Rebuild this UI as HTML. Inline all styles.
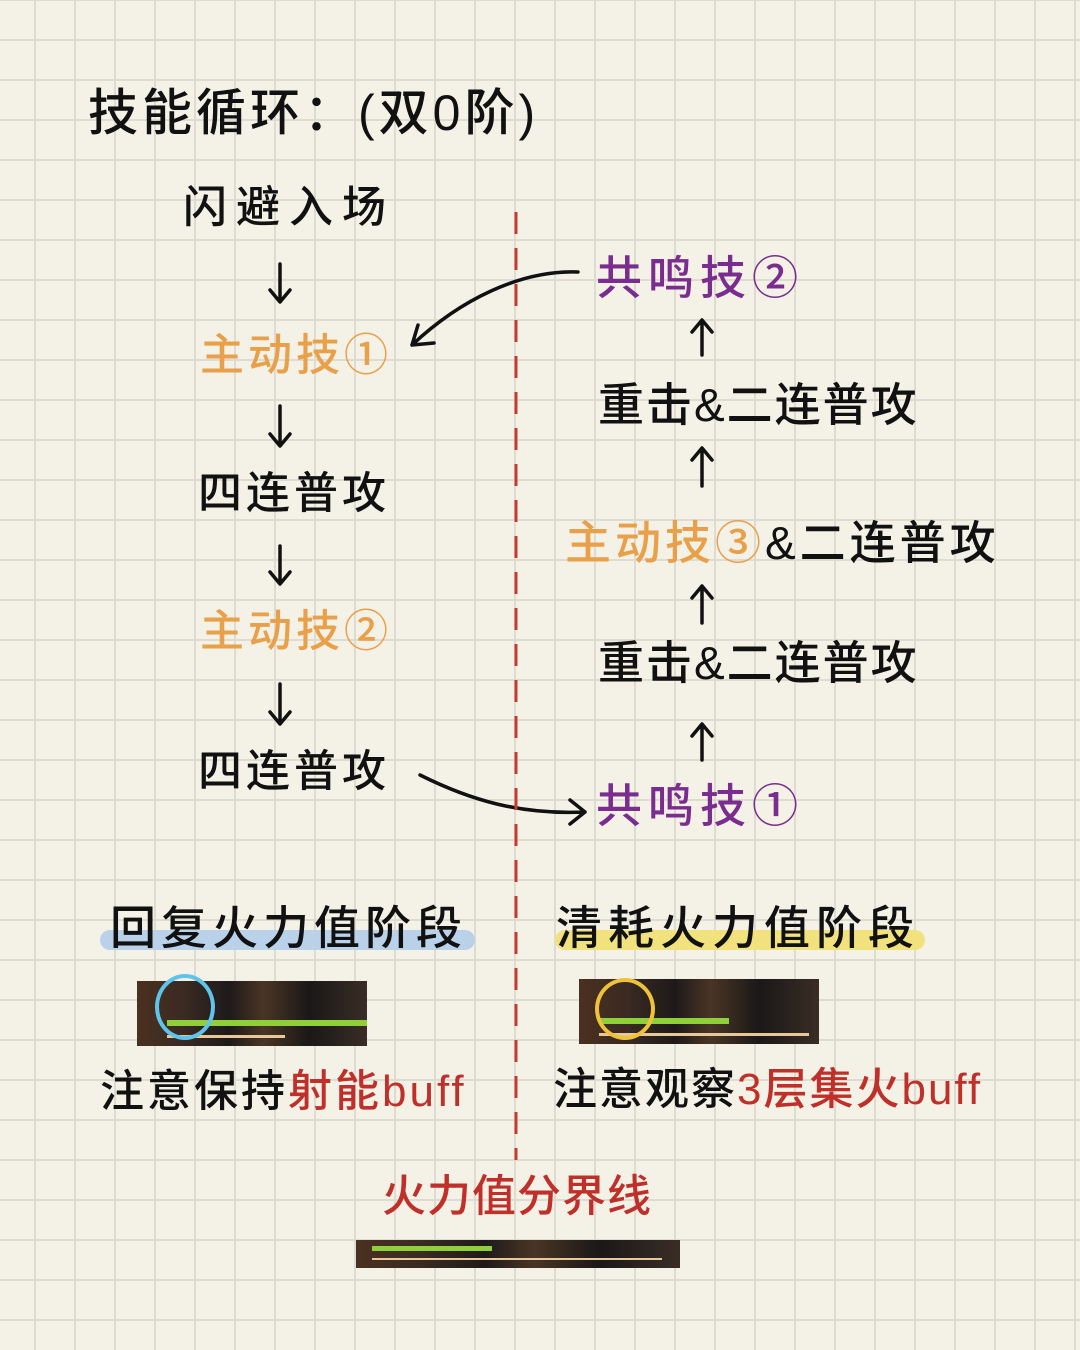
<!DOCTYPE html>
<html><head><meta charset="utf-8"><style>
html,body{margin:0;padding:0}
body{width:1080px;height:1350px;position:relative;overflow:hidden;
background-color:#f4f2e7;
background-image:linear-gradient(to right,#dedbd0 2px,transparent 2px),linear-gradient(to bottom,#dedbd0 2px,transparent 2px);
background-size:40px 40px;background-position:34px -1px;
font-family:"Liberation Sans","Noto Sans CJK SC",sans-serif;}
.t{position:absolute;white-space:nowrap;font-weight:500;line-height:1;color:#111}
.o{color:#e9a04a}.p{color:#7a2d8f}.r{color:#c0302a}
.shot{position:absolute;background:linear-gradient(90deg,#4a3020 0%,#3a2a22 20%,#1e1a1a 40%,#4a3525 55%,#1a1818 75%,#3a2d25 100%)}
.g{position:absolute;height:6px;background:#8fd03a}
.b{position:absolute;height:3px;background:#e8c89a}
.hl{position:absolute;height:20px;border-radius:10px}
</style></head><body>
<div class="t" style="left:88px;top:88px;font-size:50px;letter-spacing:4px">技能循环：(双0阶)</div>
<div class="t" style="left:183px;top:186px;font-size:44px;letter-spacing:9px">闪避入场</div>
<div class="t o" style="left:200px;top:334px;font-size:44px;letter-spacing:4px">主动技①</div>
<div class="t" style="left:198px;top:472px;font-size:44px;letter-spacing:4px">四连普攻</div>
<div class="t o" style="left:200px;top:610px;font-size:44px;letter-spacing:4px">主动技②</div>
<div class="t" style="left:198px;top:750px;font-size:44px;letter-spacing:4px">四连普攻</div>

<div class="t p" style="left:596px;top:255px;font-size:46px;letter-spacing:6px">共鸣技②</div>
<div class="t" style="left:598px;top:382px;font-size:46px;letter-spacing:2px">重击&amp;二连普攻</div>
<div class="t" style="left:565px;top:520px;font-size:46px;letter-spacing:4px"><span class="o">主动技③</span>&amp;二连普攻</div>
<div class="t" style="left:598px;top:640px;font-size:46px;letter-spacing:2px">重击&amp;二连普攻</div>
<div class="t p" style="left:596px;top:783px;font-size:46px;letter-spacing:6px">共鸣技①</div>

<svg style="position:absolute;left:0;top:0" width="1080" height="1350">
<g stroke="#111" stroke-width="3.5" fill="none" stroke-linecap="round" stroke-linejoin="round">
<path d="M280 264V300M270 290l10 12 10-12"/>
<path d="M280 406V444M270 434l10 12 10-12"/>
<path d="M280 546V582M270 572l10 12 10-12"/>
<path d="M280 684V722M270 712l10 12 10-12"/>
<path d="M702 355V322M692 332l10-12 10 12"/>
<path d="M702 486V450M692 460l10-12 10 12"/>
<path d="M702 623V588M692 598l10-12 10 12"/>
<path d="M702 760V726M692 736l10-12 10 12"/>
<path d="M578 272C520 270 460 300 412 345M418 325l-6 20 22-2"/>
<path d="M420 775C470 800 520 815 585 812M570 800l15 12-15 12"/>
</g>
<line x1="516" y1="212" x2="516" y2="1160" stroke="#c73a2c" stroke-width="3" stroke-dasharray="22 14"/>
</svg>

<div class="hl" style="left:100px;top:930px;width:375px;background:#b9d2ea"></div>
<div class="t" style="left:110px;top:905px;font-size:46px;letter-spacing:5px">回复火力值阶段</div>
<div class="hl" style="left:555px;top:930px;width:370px;background:#f1e27e"></div>
<div class="t" style="left:556px;top:905px;font-size:46px;letter-spacing:6px">清耗火力值阶段</div>

<div class="shot" style="left:137px;top:981px;width:230px;height:65px"><div class="g" style="left:30px;top:39px;width:200px"></div><div class="b" style="left:30px;top:54px;width:118px"></div></div>
<div style="position:absolute;left:155px;top:974px;width:52px;height:58px;border:4px solid #5ec4ea;border-radius:50%"></div>
<div class="shot" style="left:579px;top:979px;width:240px;height:65px"><div class="g" style="left:20px;top:39px;width:130px"></div><div class="b" style="left:20px;top:54px;width:210px"></div></div>
<div style="position:absolute;left:595px;top:978px;width:52px;height:54px;border:4px solid #eec33a;border-radius:50%"></div>

<div class="t" style="left:100px;top:1070px;font-size:44px;letter-spacing:3px">注意保持<span class="r">射能buff</span></div>
<div class="t" style="left:553px;top:1068px;font-size:44px;letter-spacing:2px">注意观察<span class="r">3层集火buff</span></div>
<div class="t r" style="left:382px;top:1175px;font-size:44px;letter-spacing:1px">火力值分界线</div>
<div class="shot" style="left:356px;top:1240px;width:324px;height:28px"><div class="g" style="left:16px;top:6px;width:120px;height:5px"></div><div class="b" style="left:16px;top:18px;width:290px;height:2px"></div></div>
</body></html>
